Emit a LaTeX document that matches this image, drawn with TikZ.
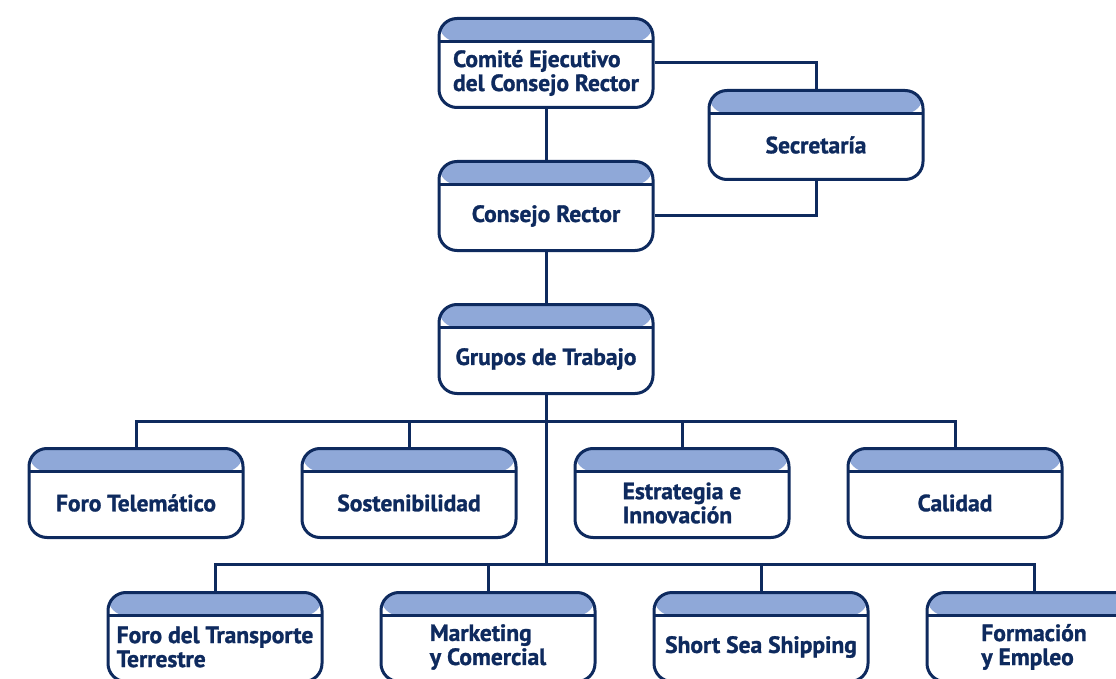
\documentclass[tikz,border=0pt]{standalone}
\usepackage{fontspec}
\setmainfont{PT Sans}[BoldFeatures={FakeBold=1.2}]
\usetikzlibrary{positioning}
\definecolor{navy}{HTML}{0E2A5E}
\definecolor{band}{HTML}{8FA8D8}

\begin{document}
\begin{tikzpicture}[x=1pt, y=-1pt, line width=3pt, color=navy,
  box/.style = {draw, fill=white, rounded corners=18pt, minimum width=214pt, minimum height=89pt, inner sep=0pt,
    path picture={\fill[band] (path picture bounding box.north west) rectangle ([yshift=-23pt]path picture bounding box.north east);
      \draw ([yshift=-23pt]path picture bounding box.north west) -- ([yshift=-23pt]path picture bounding box.north east);}},
  lbl/.style = {font=\bfseries\fontsize{23.5}{24}\selectfont, align=left, yshift=-10pt}]
\useasboundingbox (0,0) rectangle (1116,679);

% upper chain
\node[box, label={[lbl]center:{Comité Ejecutivo\\del Consejo Rector}}] (comite) at (546,63) {};
\node[box, label={[lbl]center:Consejo Rector}] (consejo) [below=51pt of comite] {};
\node[box, label={[lbl]center:Grupos de Trabajo}] (grupos) [below=51pt of consejo] {};
\node[box, label={[lbl]center:Secretaría}] (secre) at (816,135) {};

% first row
\node[box, label={[lbl]center:Foro Telemático}] (foro) at (136,493) {};
\node[box, label={[lbl]center:Sostenibilidad}] (sost) [right=56pt of foro] {};
\node[box, label={[lbl]center:{Estrategia e\\Innovación}}] (estr) [right=56pt of sost] {};
\node[box, label={[lbl]center:Calidad}] (calidad) [right=56pt of estr] {};

% second row
\node[box, label={[lbl]center:{Foro del Transporte\\Terrestre}}] (transp) at (215,637) {};
\node[box, label={[lbl]center:{Marketing\\y Comercial}}] (mkt) [right=56pt of transp] {};
\node[box, label={[lbl]center:Short Sea Shipping}] (sss) [right=56pt of mkt] {};
\node[box, label={[lbl]center:{Formación\\y Empleo}}] (form) [right=56pt of sss] {};

\coordinate (bus1) at (546,421);
\coordinate (bus2) at (546,564);

\draw (comite) -- (consejo);
\draw (consejo) -- (grupos);
\draw (comite.east) -| (secre.north);
\draw (secre.south) |- ([yshift=-10pt]consejo.east);
\draw (grupos.south) -- (bus2);
\draw (foro.north) |- (bus1) -| (calidad.north);
\draw (sost.north) -- (sost.north |- bus1);
\draw (estr.north) -- (estr.north |- bus1);
\draw (transp.north) |- (bus2) -| (form.north);
\draw (mkt.north) -- (mkt.north |- bus2);
\draw (sss.north) -- (sss.north |- bus2);
\end{tikzpicture}
\end{document}
